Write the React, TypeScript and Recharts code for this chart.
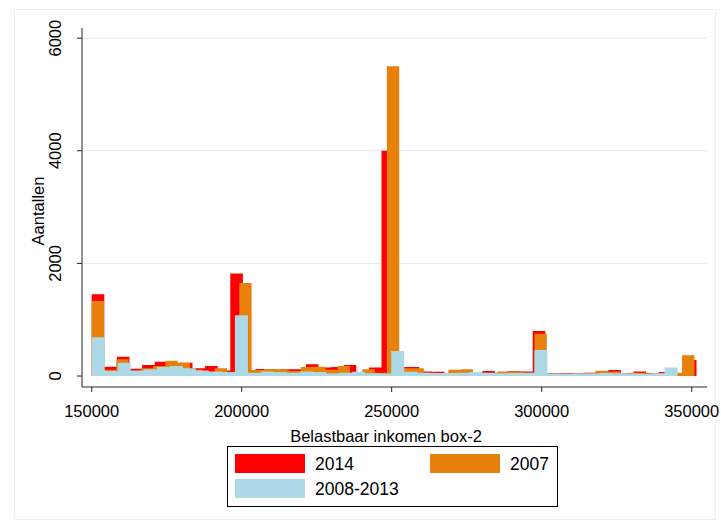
import React from 'react';
import { ComposedChart, Area, XAxis, YAxis, CartesianGrid } from 'recharts';

// ---- data ----
const xTicks = [150000, 200000, 250000, 300000, 350000];
const yTicks = [0, 2000, 4000, 6000];
const seriesNames = ['2014', '2007', '2008-2013'];

const binStart = 150000;

const binWidth2014 = 4200;
const counts2014 = [
  1450, 165, 340, 130, 195, 255, 220, 235, 140, 180,
  100, 1820, 60, 125, 110, 120, 120, 210, 150, 160,
  195, 60, 150, 4000, 160, 160, 80, 75, 50, 80,
  60, 90, 60, 85, 80, 800, 50, 50, 55, 60,
  90, 105, 50, 80, 50, 70, 40, 285,
];

const binWidth2007 = 4100;
const counts2007 = [
  1330, 110, 300, 90, 140, 180, 270, 235, 110, 60,
  140, 60, 1650, 105, 125, 120, 90, 160, 165, 110,
  180, 50, 120, 60, 5500, 140, 140, 60, 50, 110,
  120, 60, 50, 80, 75, 60, 750, 40, 40, 50,
  50, 95, 80, 40, 60, 40, 50, 60, 370,
];

const binWidth0813 = 4340;
const counts0813 = [
  690, 90, 235, 100, 120, 160, 180, 140, 100, 80,
  70, 1080, 60, 80, 70, 60, 80, 70, 45, 60,
  75, 50, 45, 445, 75, 60, 55, 55, 60, 70,
  60, 50, 55, 60, 460, 45, 40, 45, 45, 55,
  50, 45, 40, 50, 150,
];

const colors = { c2014: '#FF0000', c2007: '#E8800C', c0813: '#ADD8E6' };

function toSteps(start: number, width: number, counts: number[]) {
  const pts = counts.map((c, i) => ({ x: start + i * width, y: c }));
  pts.push({ x: start + counts.length * width, y: 0 });
  return pts;
}

const data2014 = toSteps(binStart, binWidth2014, counts2014);
const data2007 = toSteps(binStart, binWidth2007, counts2007);
const data0813 = toSteps(binStart, binWidth0813, counts0813);

const FONT = '"Liberation Sans", Arial, sans-serif';

const XTick = (props: any) => {
  const { x, y, payload } = props;
  return (
    <text x={x} y={y + 17} textAnchor="middle" dominantBaseline="central" fontSize={16.5} fontFamily={FONT} fill="#000">
      {payload.value}
    </text>
  );
};

const YTick = (props: any) => {
  const { x, y, payload } = props;
  const cx = x - 20;
  return (
    <text x={cx} y={y} textAnchor="middle" dominantBaseline="central" fontSize={16.5} fontFamily={FONT} fill="#000"
      transform={`rotate(-90 ${cx} ${y})`}>
      {payload.value}
    </text>
  );
};

export default function App() {
  return (
    <div style={{ position: 'absolute', left: 0, top: 0, width: 721, height: 523, background: '#fff', fontFamily: FONT }}>
      <div style={{ position: 'absolute', left: 14, top: 9, width: 700, height: 509, border: '1px solid #F0F0F0' }} />
      <ComposedChart width={721} height={523} margin={{ top: 28, right: 14, bottom: 106, left: 2 }}>
        <CartesianGrid horizontal vertical={false} stroke="#E3ECEF" strokeWidth={1} horizontalValues={[2000, 4000, 6000]} />
        <XAxis
          type="number"
          dataKey="x"
          domain={[146770, 355100]}
          allowDataOverflow
          ticks={xTicks}
          interval={0}
          height={30}
          stroke="#222"
          tickSize={5}
          tick={<XTick />}
        />
        <YAxis
          type="number"
          dataKey="y"
          domain={[-195, 6180]}
          allowDataOverflow
          ticks={yTicks}
          interval={0}
          width={80}
          stroke="#222"
          tickSize={5}
          tick={<YTick />}
        />
        <Area data={data2014} dataKey="y" type="stepAfter" baseValue={0} stroke="none" fill={colors.c2014} fillOpacity={1} isAnimationActive={false} dot={false} activeDot={false} />
        <Area data={data2007} dataKey="y" type="stepAfter" baseValue={0} stroke="none" fill={colors.c2007} fillOpacity={1} isAnimationActive={false} dot={false} activeDot={false} />
        <Area data={data0813} dataKey="y" type="stepAfter" baseValue={0} stroke="none" fill={colors.c0813} fillOpacity={1} isAnimationActive={false} dot={false} activeDot={false} />
      </ComposedChart>
      <svg width={721} height={523} style={{ position: 'absolute', left: 0, top: 0, pointerEvents: 'none' }}>
        <text x={38} y={211} textAnchor="middle" dominantBaseline="central" fontSize={16.5} fontFamily={FONT} fill="#000"
          transform="rotate(-90 38 211)">Aantallen</text>
        <text x={386} y={436} textAnchor="middle" dominantBaseline="central" fontSize={16.5} fontFamily={FONT} fill="#000">Belastbaar inkomen box-2</text>
        <rect x={227.5} y={446.5} width={330} height={60} fill="#fff" stroke="#000" strokeWidth={1} />
        <rect x={235} y={454} width={70} height={19} fill={colors.c2014} />
        <text x={315} y={464} dominantBaseline="central" fontSize={17.5} fontFamily={FONT} fill="#000">{seriesNames[0]}</text>
        <rect x={430} y={454} width={70} height={19} fill={colors.c2007} />
        <text x={510} y={464} dominantBaseline="central" fontSize={17.5} fontFamily={FONT} fill="#000">{seriesNames[1]}</text>
        <rect x={235} y={479} width={70} height={19} fill={colors.c0813} />
        <text x={315} y={489} dominantBaseline="central" fontSize={17.5} fontFamily={FONT} fill="#000">{seriesNames[2]}</text>
      </svg>
    </div>
  );
}
